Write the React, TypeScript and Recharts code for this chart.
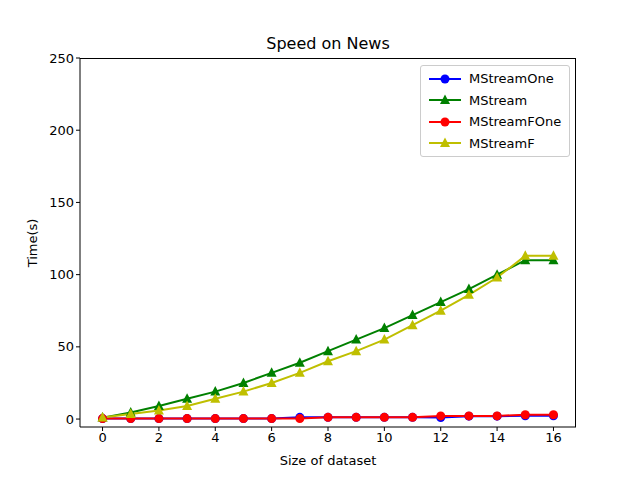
import { LineChart, Line, XAxis, YAxis } from "recharts";

const sizes = [0, 1, 2, 3, 4, 5, 6, 7, 8, 9, 10, 11, 12, 13, 14, 15, 16];
const mStreamOne = [0.3, 0.3, 0.3, 0.3, 0.3, 0.3, 0.3, 1.2, 1.2, 1.2, 1.2, 1.2, 1, 2, 2, 2.3, 2.3];
const mStream = [1, 4.5, 9, 14, 19, 25, 32, 39, 47, 55, 63, 72, 81, 90, 100, 110, 110];
const mStreamFOne = [0.3, 0.3, 0.3, 0.3, 0.3, 0.3, 0.3, 0.3, 1.2, 1.2, 1.2, 1.2, 2.2, 2.2, 2.2, 3, 3];
const mStreamF = [1, 3.5, 6, 9, 14, 19, 25, 32, 40, 47, 55, 65, 75, 86, 98, 113, 113];
const xTicks = [0, 2, 4, 6, 8, 10, 12, 14, 16];
const yTicks = [0, 50, 100, 150, 200, 250];

const data = sizes.map((s, i) => ({
  size: s,
  one: mStreamOne[i],
  ms: mStream[i],
  fone: mStreamFOne[i],
  f: mStreamF[i],
}));

const series = [
  { key: "one", name: "MStreamOne", color: "#0000ff", shape: "circle" },
  { key: "ms", name: "MStream", color: "#008000", shape: "tri" },
  { key: "fone", name: "MStreamFOne", color: "#ff0000", shape: "circle" },
  { key: "f", name: "MStreamF", color: "#bfbf00", shape: "tri" },
];

const marker = (shape: string, color: string) => (props: any) => {
  const { cx, cy, index } = props;
  if (shape === "circle") return <circle key={index} cx={cx} cy={cy} r={4.5} fill={color} />;
  return (
    <polygon key={index} points={`${cx},${cy - 5.5} ${cx - 5},${cy + 4} ${cx + 5},${cy + 4}`} fill={color} />
  );
};

const font = "DejaVu Sans";

export default function App() {
  return (
    <div style={{ position: "relative", width: 640, height: 480, margin: -8, background: "#fff", fontFamily: font }}>
      <LineChart width={640} height={480} data={data} margin={{ top: 58, right: 64, bottom: 0, left: 0 }}>
        <XAxis
          dataKey="size"
          type="number"
          domain={[-0.8, 16.8]}
          ticks={xTicks}
          allowDataOverflow
          stroke="#000"
          tick={{ fill: "#000", fontSize: 13, fontFamily: font }}
          tickSize={4}
          height={53}
        />
        <YAxis
          type="number"
          domain={[-5.5, 250]}
          ticks={yTicks}
          allowDataOverflow
          stroke="#000"
          tick={{ fill: "#000", fontSize: 13, fontFamily: font }}
          tickSize={4}
          width={80}
        />
        {series.map((s) => (
          <Line
            key={s.key}
            dataKey={s.key}
            name={s.name}
            stroke={s.color}
            strokeWidth={2}
            type="linear"
            dot={marker(s.shape, s.color)}
            activeDot={false}
            isAnimationActive={false}
          />
        ))}
      </LineChart>
      <div style={{ position: "absolute", left: 80, top: 58, width: 496, height: 369, borderTop: "1px solid #000", borderRight: "1px solid #000", boxSizing: "border-box", pointerEvents: "none" }} />
      <div style={{ position: "absolute", top: 34, left: 80, width: 496, textAlign: "center", fontSize: 16 }}>Speed on News</div>
      <div style={{ position: "absolute", top: 453, left: 80, width: 496, textAlign: "center", fontSize: 13 }}>Size of dataset</div>
      <div style={{ position: "absolute", left: 32, top: 243, fontSize: 13, transform: "translate(-50%,-50%) rotate(-90deg)", whiteSpace: "nowrap" }}>Time(s)</div>
      <div style={{ position: "absolute", left: 420, top: 65, width: 148, border: "1px solid #ccc", borderRadius: 3, background: "#fff", padding: "2px 0", fontSize: 13 }}>
        {series.map((s) => (
          <div key={s.key} style={{ display: "flex", alignItems: "center", height: 21.5 }}>
            <svg width={40} height={14} style={{ marginLeft: 4, marginRight: 4 }}>
              <line x1={4} x2={36} y1={7} y2={7} stroke={s.color} strokeWidth={2} />
              {s.shape === "circle" ? <circle cx={20} cy={7} r={4.5} fill={s.color} /> : <polygon points="20,1.5 15,11 25,11" fill={s.color} />}
            </svg>
            {s.name}
          </div>
        ))}
      </div>
    </div>
  );
}
